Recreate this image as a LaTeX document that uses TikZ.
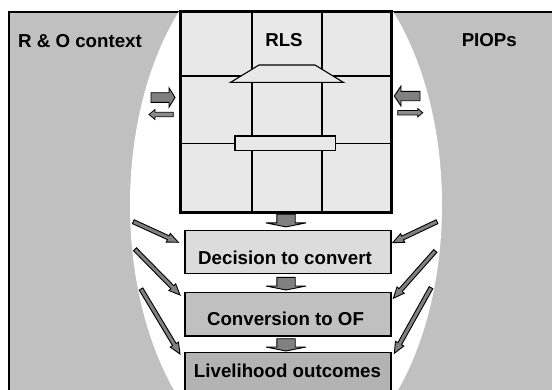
\documentclass[tikz,border=0pt]{standalone}
\usepackage{fontspec}
\setmainfont{Liberation Sans}
\usetikzlibrary{calc}
\definecolor{panelgray}{HTML}{C0C0C0}
\definecolor{cellgray}{HTML}{E8E8E8}
\definecolor{boxa}{HTML}{DCDCDC}
\definecolor{boxb}{HTML}{C0C0C0}
\definecolor{boxc}{HTML}{B3B3B3}
\definecolor{arrgray}{HTML}{808080}
\definecolor{arrlight}{HTML}{8C8C8C}
% block arrow: from, to, shaft half width, head half width, head length, style
\newcommand\blkarr[6]{%
  \path ($(#2)!#5!(#1)$) coordinate (bh);
  \filldraw[#6] ($(#1)!#3!90:(#2)$) -- ($(bh)!#3!90:(#2)$) -- ($(bh)!#4!90:(#2)$)
    -- (#2) -- ($(bh)!#4!-90:(#2)$) -- ($(bh)!#3!-90:(#2)$) -- ($(#1)!#3!-90:(#2)$) -- cycle;}
\tikzset{
  lbl/.style={font=\bfseries\fontsize{18.7}{21}\selectfont, inner sep=0pt},
  stagebox/.style={draw=black, line width=1.4pt, minimum width=206pt, inner sep=0pt},
  arrfill/.style={fill=arrgray, draw=black, line width=0.9pt, line join=miter},
  arrfilllight/.style={fill=arrlight, draw=black, line width=0.8pt, line join=miter},
  cellline/.style={line width=1.6pt},
  thinshape/.style={fill=cellgray, draw=black, line width=1.1pt},
}
\begin{document}
\begin{tikzpicture}[x=1pt, y=-1pt]
\useasboundingbox (0,0) rectangle (552,389);
\clip (0,0) rectangle (552,389);
% outer panel
\filldraw[fill=panelgray, draw=black, line width=1.3pt] (9,12) rectangle (620,460);
% white ellipse
\fill[white] (286,205) ellipse [x radius=156pt, y radius=266pt];
% RLS grid
\node[fill=cellgray, minimum width=210pt, minimum height=200pt, inner sep=0pt] (rls) at (286,112) {};
\draw[cellline] (251.7,12) -- (251.7,212);
\draw[cellline] (321.7,12) -- (321.7,212);
\draw[cellline] (181,76) -- (391,76);
\draw[cellline] (181,143.3) -- (391,143.3);
\filldraw[thinshape] (259,65) -- (315,65) -- (343.3,82.3) -- (230.7,82.3) -- cycle;
\filldraw[thinshape] (235,136) rectangle (335.7,150.7);
\draw[line width=3pt] (rls.north west) rectangle (rls.south east);
% stage boxes
\node[stagebox, fill=boxa, minimum height=42.6pt] (b1) at (288,252) {};
\node[stagebox, fill=boxb, minimum height=43.3pt] (b2) at (288,314.35) {};
\node[stagebox, fill=boxc, minimum height=50pt] (b3) at (288,377.7) {};
% texts
\node[lbl, anchor=base] (t0) at (284,46.7) {RLS};
\node[lbl, anchor=base west] (tl) at (18,47.3) {R \& O context};
\node[lbl, anchor=base] (tr) at (489.3,46.7) {PIOPs};
\node[lbl, anchor=base] (t1) at (285,264) {Decision to convert};
\node[lbl, anchor=base] (t2) at (285.5,325) {Conversion to OF};
\node[lbl, anchor=base] (t3) at (287.5,377.3) {Livelihood outcomes};
% down arrows between stages
\coordinate (d1a) at ($(rls.south)+(0,2)$);
\coordinate (d1b) at ($(rls.south)+(0,14.7)$);
\coordinate (d2a) at ($(b1.south)+(-2,3.4)$);
\coordinate (d2b) at ($(b1.south)+(-2,16)$);
\coordinate (d3a) at ($(b2.south)+(-2,2)$);
\coordinate (d3b) at ($(b2.south)+(-2,14.3)$);
\blkarr{d1a}{d1b}{9.2pt}{20pt}{4pt}{arrfill}
\blkarr{d2a}{d2b}{9.2pt}{20pt}{4pt}{arrfill}
\blkarr{d3a}{d3b}{9.2pt}{20pt}{4pt}{arrfill}
% side arrows near grid
\coordinate (la1) at (151,97.5);   \coordinate (lb1) at (175,97.5);
\coordinate (la2) at (173.3,114.5); \coordinate (lb2) at (149,114.5);
\coordinate (ra1) at (420,96);     \coordinate (rb1) at (394.3,96);
\coordinate (ra2) at (397.7,112.7); \coordinate (rb2) at (422.7,112.7);
\blkarr{la1}{lb1}{4.8pt}{9.7pt}{6pt}{arrfill}
\blkarr{la2}{lb2}{2.2pt}{5pt}{6pt}{arrfilllight}
\blkarr{ra1}{rb1}{4.7pt}{10pt}{6.7pt}{arrfill}
\blkarr{ra2}{rb2}{2.2pt}{4.2pt}{5pt}{arrfilllight}
% diagonal arrows from context panels
\coordinate (p1) at (133.3,221.7); \coordinate (q1) at (178.3,242.3);
\coordinate (p2) at (135,249.3);   \coordinate (q2) at (180,295);
\coordinate (p3) at (141,289);     \coordinate (q3) at (180,354);
\coordinate (p4) at (437,221.7);   \coordinate (q4) at (392.7,242.7);
\coordinate (p5) at (435.3,251);   \coordinate (q5) at (393.3,298.3);
\coordinate (p6) at (431,287.7);   \coordinate (q6) at (394.3,353.3);
\blkarr{p1}{q1}{2.1pt}{4.8pt}{11pt}{arrfill}
\blkarr{p2}{q2}{2.1pt}{4.8pt}{11pt}{arrfill}
\blkarr{p3}{q3}{2.1pt}{4.8pt}{11pt}{arrfill}
\blkarr{p4}{q4}{2.1pt}{4.8pt}{11pt}{arrfill}
\blkarr{p5}{q5}{2.1pt}{4.8pt}{11pt}{arrfill}
\blkarr{p6}{q6}{2.1pt}{4.8pt}{11pt}{arrfill}
\end{tikzpicture}
\end{document}
